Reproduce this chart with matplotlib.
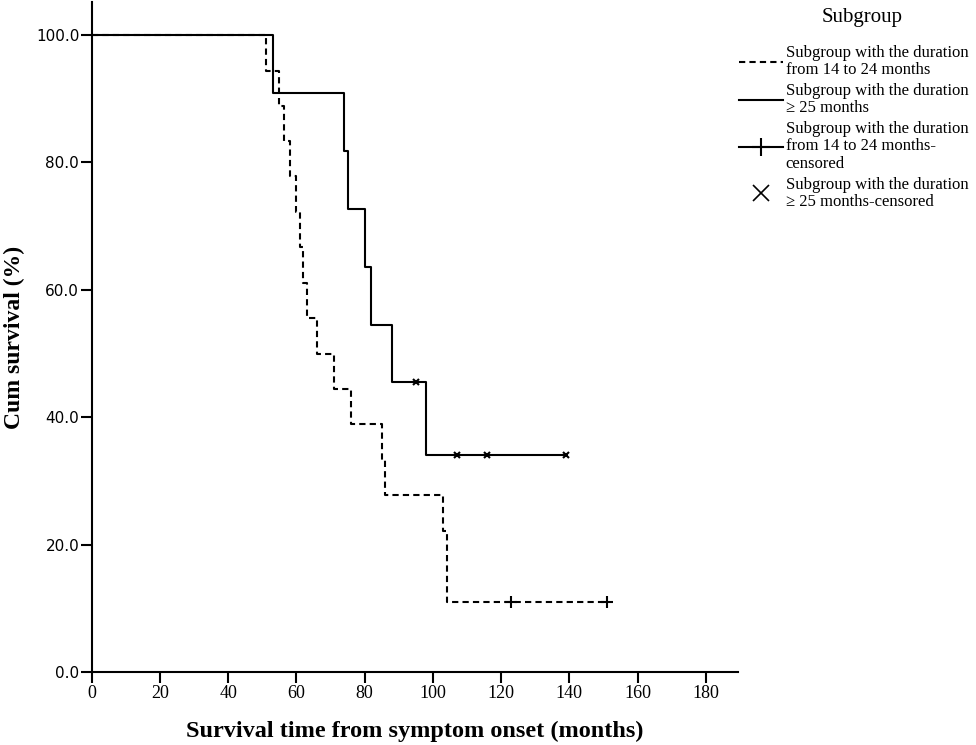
#Kaplan-Meier survival curves by subgroup (duration from symptom onset)
import numpy as np
import matplotlib.pyplot as plt
from matplotlib.lines import Line2D

#step data: time (months) and cumulative survival (%)
short_times = [0, 51, 55, 56.5, 58, 60, 61, 62, 63, 66, 71, 76, 85, 86, 103, 104, 151]
short_surv = [100, 94.4, 88.9, 83.3, 77.8, 72.2, 66.7, 61.1, 55.6, 50.0, 44.4, 38.9,
              33.3, 27.8, 22.2, 11.1, 11.1]
long_times = [0, 53, 74, 75, 80, 82, 88, 98, 139]
long_surv = [100, 90.9, 81.8, 72.7, 63.6, 54.5, 45.5, 34.1, 34.1]

#censored points
short_cens_t = [123, 151]
short_cens_s = [11.1, 11.1]
long_cens_t = [95, 107, 116, 139]
long_cens_s = [45.5, 34.1, 34.1, 34.1]

x_ticks = [0, 20, 40, 60, 80, 100, 120, 140, 160, 180]
y_ticks = [0, 20, 40, 60, 80, 100]

labels = ["Subgroup with the duration\nfrom 14 to 24 months",
          "Subgroup with the duration\n\u2265 25 months",
          "Subgroup with the duration\nfrom 14 to 24 months-\ncensored",
          "Subgroup with the duration\n\u2265 25 months-censored"]

serif = "Liberation Serif"

fig = plt.figure(figsize=(9.76, 7.45), dpi=100)
ax = fig.add_axes([0.094, 0.0976, 0.662, 0.900])

ax.step(short_times, short_surv, where="post", color="black", lw=1.5,
        linestyle=(0, (3, 2)))
ax.step(long_times, long_surv, where="post", color="black", lw=1.5)
ax.plot(short_cens_t, short_cens_s, linestyle="none", marker="+", color="black",
        markersize=9, mew=1.5)
ax.plot(long_cens_t, long_cens_s, linestyle="none", marker="x", color="black",
        markersize=5, mew=1.5)

ax.set_xlim(0, 189.4)
ax.set_ylim(0, 105.2)
ax.set_xticks(x_ticks)
ax.set_xticklabels([str(t) for t in x_ticks], fontfamily=serif, fontsize=13)
ax.set_yticks(y_ticks)
ax.set_yticklabels(["%.1f" % t for t in y_ticks], fontfamily="DejaVu Sans", fontsize=11)
ax.tick_params(axis="both", direction="out", length=8, width=1.5, pad=1)
ax.spines["top"].set_visible(False)
ax.spines["right"].set_visible(False)
ax.spines["left"].set_linewidth(1.5)
ax.spines["bottom"].set_linewidth(1.5)

ax.set_xlabel("Survival time from symptom onset (months)", fontfamily=serif,
              fontweight="bold", fontsize=17.5, labelpad=14)
ax.set_ylabel("Cum survival (%)", fontfamily=serif, fontweight="bold", fontsize=17,
              labelpad=8)

#legend outside the axes, title as separate text
fig.text(0.883, 0.977, "Subgroup", ha="center", va="center", fontfamily=serif,
         fontsize=15)
handles = [Line2D([], [], color="black", lw=1.5, linestyle=(0, (3, 2))),
           Line2D([], [], color="black", lw=1.5),
           Line2D([], [], color="black", lw=1.5, marker="+", markersize=13, mew=1.5),
           Line2D([], [], color="black", linestyle="none", marker="x", markersize=12,
                  mew=1.2)]
leg = fig.legend(handles, labels, loc="upper left", bbox_to_anchor=(0.742, 0.96),
                 frameon=False, prop={"family": serif, "size": 12},
                 handlelength=2.6, handletextpad=0.2, labelspacing=0.28)
for t in leg.get_texts():
    t.set_linespacing(1.12)

fig.savefig("out.png", dpi=100)
